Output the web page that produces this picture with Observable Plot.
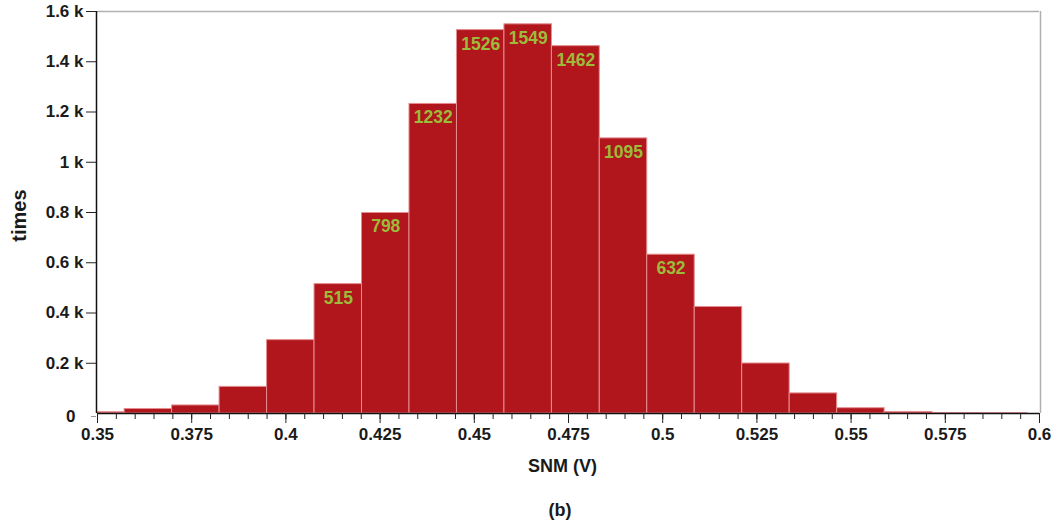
<!DOCTYPE html>
<html>
<head>
<meta charset="utf-8">
<script src="https://cdn.jsdelivr.net/npm/d3@7"></script>
<script src="https://cdn.jsdelivr.net/npm/@observablehq/plot@0.6"></script>
<style>
  html, body { margin: 0; padding: 0; background: #fff; }
  #chart svg { display: block; }
  #caption { width: 1057px; box-sizing: border-box; padding-left: 63px; text-align: center;
    font: bold 18px "Liberation Sans", Arial, sans-serif; color: #1a1a1a; height: 34px; line-height: 40px; }
</style>
</head>
<body>
<div id="chart"></div>
<div id="caption">(b)</div>
<script>
// Bin edges (V)
const binStart = [0.35, 0.3572, 0.3698, 0.3824, 0.3950, 0.4076, 0.4202, 0.4328, 0.4454, 0.4580, 0.4706, 0.4833, 0.4959, 0.5085, 0.5211, 0.5337, 0.5463, 0.5589, 0.5716, 0.5842];
const binEnd   = [0.3572, 0.3698, 0.3824, 0.3950, 0.4076, 0.4202, 0.4328, 0.4454, 0.4580, 0.4706, 0.4833, 0.4959, 0.5085, 0.5211, 0.5337, 0.5463, 0.5589, 0.5716, 0.5842, 0.5968];
// Counts per bin
const counts   = [5, 18, 32, 106, 292, 515, 798, 1232, 1526, 1549, 1462, 1095, 632, 424, 199, 80, 21, 6, 2, 1];
// Bins that carry a value label
const labeled  = [false, false, false, false, false, true, true, true, true, true, true, true, true, false, false, false, false, false, false, false];

const xTicks = [0.35, 0.375, 0.4, 0.425, 0.45, 0.475, 0.5, 0.525, 0.55, 0.575, 0.6];
const xTickLabels = ["0.35", "0.375", "0.4", "0.425", "0.45", "0.475", "0.5", "0.525", "0.55", "0.575", "0.6"];
const yTicks = [200, 400, 600, 800, 1000, 1200, 1400, 1600];
const yTickLabels = ["0.2 k", "0.4 k", "0.6 k", "0.8 k", "1 k", "1.2 k", "1.4 k", "1.6 k"];
const xMinorTicks = d3.range(0, 51).map(i => +(0.35 + i * 0.005).toFixed(3));

const bins = counts.map((c, i) => ({x1: binStart[i], x2: binEnd[i], count: c, label: labeled[i]}));

const chart = Plot.plot({
  width: 1057,
  height: 490,
  marginLeft: 97,
  marginRight: 18,
  marginTop: 11,
  marginBottom: 77,
  style: {fontFamily: "'Liberation Sans', Arial, sans-serif", fontWeight: "bold", color: "#1a1a1a", background: "#fff"},
  x: {domain: [0.35, 0.6]},
  y: {domain: [0, 1600]},
  marks: [
    Plot.ruleY([1600], {stroke: "#b0b0b0", strokeWidth: 1.5}),
    Plot.ruleX([0.6], {stroke: "#b0b0b0", strokeWidth: 1.5, dx: 1}),
    Plot.rectY(bins, {x1: "x1", x2: "x2", y: "count", fill: "#B0161C", stroke: "#E58C90", strokeWidth: 1}),
    Plot.text(bins.filter(d => d.label), {
      x: d => (d.x1 + d.x2) / 2, y: "count", text: d => String(d.count),
      lineAnchor: "top", dy: 7, fill: "#9DBB3A", fontSize: 17.5, fontWeight: "bold"
    }),
    Plot.ruleY([0], {stroke: "#111", strokeWidth: 1.5}),
    Plot.ruleX([0.35], {stroke: "#111", strokeWidth: 1.5, dx: -1}),
    Plot.axisX({ticks: xMinorTicks, tickSize: 6, tickFormat: () => "", label: null, stroke: "#222"}),
    Plot.axisX({ticks: xTicks, tickSize: 10, tickPadding: 4, tickFormat: (d, i) => xTickLabels[i], fontSize: 17, label: null, stroke: "#222"}),
    Plot.axisY({ticks: yTicks, tickSize: 10, tickPadding: 3, dx: -1, tickFormat: (d, i) => yTickLabels[i], fontSize: 17, label: null, stroke: "#222"}),
    Plot.axisY({ticks: [0], tickSize: 5, tickPadding: 16, dx: -1, dy: 3, tickFormat: () => "0", fontSize: 17, label: null, stroke: "#999"}),
    Plot.text(["times"], {frameAnchor: "left", textAnchor: "middle", lineAnchor: "middle", dx: -78, dy: 3, rotate: -90, fontSize: 20, fontWeight: "bold", fill: "#1a1a1a"}),
    Plot.text(["SNM (V)"], {frameAnchor: "bottom", textAnchor: "middle", lineAnchor: "middle", dy: 53, dx: -6, fontSize: 18, fontWeight: "bold", fill: "#1a1a1a"})
  ]
});
document.getElementById("chart").appendChild(chart);
</script>
</body>
</html>
